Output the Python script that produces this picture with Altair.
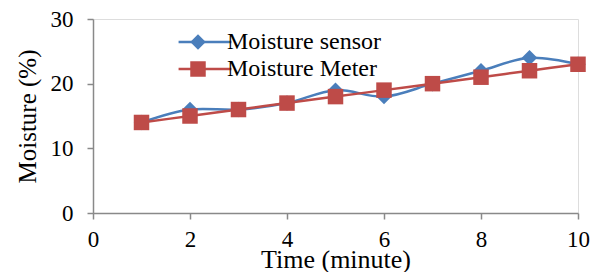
import altair as alt
import pandas as pd

time_min = [1, 2, 3, 4, 5, 6, 7, 8, 9, 10]
sensor = [14, 16, 16, 17, 19, 18, 20, 22, 24, 23]
meter = [14, 15, 16, 17, 18, 19, 20, 21, 22, 23]
series_names = ["Moisture sensor", "Moisture Meter"]
colors = ["#4A7EBB", "#BE4B48"]
x_ticks = [0, 2, 4, 6, 8, 10]
y_ticks = [0, 10, 20, 30]

df = pd.concat([
    pd.DataFrame({"time": time_min, "value": sensor, "series": series_names[0]}),
    pd.DataFrame({"time": time_min, "value": meter, "series": series_names[1]}),
])
df["series2"] = df["series"]

FONT = "Liberation Serif"
GRAY = "#898989"

x = alt.X("time:Q", scale=alt.Scale(domain=[0, 10], nice=False),
          axis=alt.Axis(values=x_ticks, title="Time (minute)", grid=False, labelFlush=False,
                        domainColor=GRAY, domainWidth=1.5, tickColor=GRAY, tickWidth=1.5,
                        tickSize=6, labelPadding=9, labelFontSize=23, labelFont=FONT,
                        labelColor="black", titleFont=FONT, titleFontSize=26,
                        titleFontWeight="normal", titleColor="black", titlePadding=-5))
y = alt.Y("value:Q", scale=alt.Scale(domain=[0, 30], nice=False),
          axis=alt.Axis(values=y_ticks, title="Moisture (%)", grid=False, labelFlush=False,
                        domainColor=GRAY, domainWidth=1.5, tickColor=GRAY, tickWidth=1.5,
                        tickSize=6, labelPadding=14, labelFontSize=23, labelFont=FONT,
                        labelColor="black", titleFont=FONT, titleFontSize=25,
                        titleFontWeight="normal", titleColor="black", titlePadding=10))

line_color = alt.Color(
    "series:N", sort=series_names,
    scale=alt.Scale(range=colors),
    legend=alt.Legend(title=None, orient="none", legendX=100, legendY=11, padding=0,
                      symbolType="M-7,0H7", symbolSize=57, symbolStrokeWidth=2.5,
                      labelFont=FONT, labelFontSize=24, labelColor="black", labelOffset=10,
                      rowPadding=3, labelLimit=300,
                      labelExpr="datum.label == 'Moisture Meter' ? '\u00a0Moisture Meter' : datum.label"),
)
pt_legend = alt.Legend(title=None, orient="none", legendX=93, legendY=11, padding=0,
                       symbolSize=240, symbolStrokeWidth=0, labelOpacity=0,
                       labelFont=FONT, labelFontSize=24, labelOffset=5, rowPadding=3)
pt_fill = alt.Fill("series2:N",
                   scale=alt.Scale(domain=series_names, range=colors), legend=pt_legend)
pt_shape = alt.Shape("series2:N",
                     scale=alt.Scale(domain=series_names, range=["diamond", "square"]),
                     legend=pt_legend)

layers = []
for name in series_names:
    base = alt.Chart(df).transform_filter(alt.datum.series == name)
    layers.append(base.mark_line(interpolate="catmull-rom", strokeWidth=2.5).encode(
        x=x, y=y, color=line_color))
    layers.append(base.mark_point(filled=True, size=240, opacity=1, strokeWidth=0).encode(
        x=x, y=y, fill=pt_fill, shape=pt_shape))

chart = alt.layer(*layers).properties(
    width=485, height=194,
    autosize=alt.AutoSizeParams(type="none"),
    padding={"left": 85, "top": 11, "right": 30, "bottom": 59},
).configure_view(stroke=None).configure(background="white")

chart.save("out.html", embed_options={"renderer": "svg", "actions": False})
